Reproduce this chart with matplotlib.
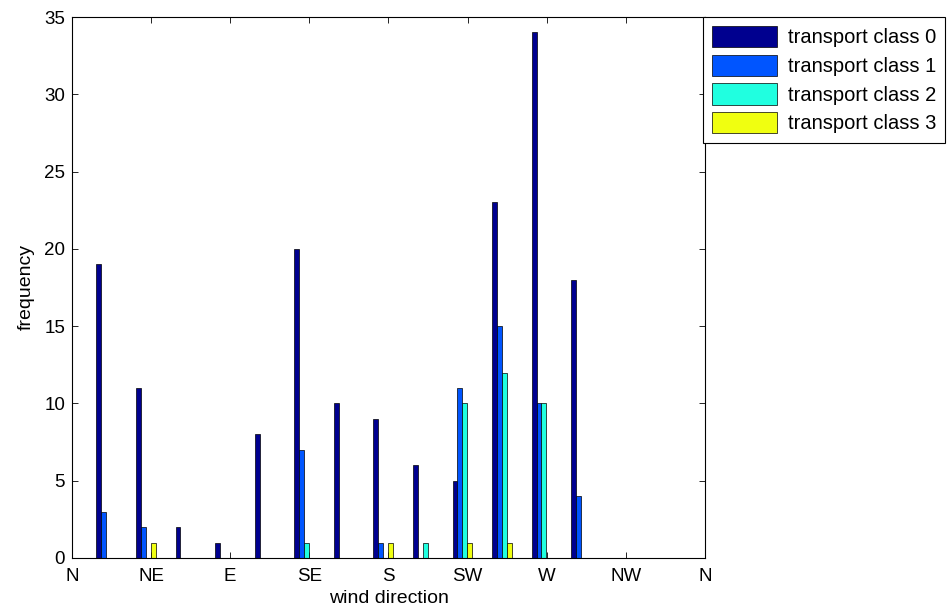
import numpy as np
import matplotlib
matplotlib.use('Agg')
import matplotlib.pyplot as plt

plt.rcParams['font.family'] = ['Liberation Sans', 'DejaVu Sans']

# wind direction bins (degrees, bin centres) and counts per transport class
bin_centres = [19.5, 42.0, 64.5, 87.0, 109.5, 132.0, 154.5, 177.0,
               199.5, 222.0, 244.5, 267.0, 289.5, 312.0, 334.5, 357.0]
class0 = [19, 11, 2, 1, 8, 20, 10, 9, 6, 5, 23, 34, 18, 0, 0, 0]
class1 = [3, 2, 0, 0, 0, 7, 0, 1, 0, 11, 15, 10, 4, 0, 0, 0]
class2 = [0, 0, 0, 0, 0, 1, 0, 0, 1, 10, 12, 10, 0, 0, 0, 0]
class3 = [0, 1, 0, 0, 0, 0, 0, 1, 0, 1, 1, 0, 0, 0, 0, 0]

series = [class0, class1, class2, class3]
labels = ['transport class 0', 'transport class 1', 'transport class 2', 'transport class 3']
colors = ['#00008F', '#0055FF', '#20FFE0', '#F0FF10']

tick_pos = [0, 45, 90, 135, 180, 225, 270, 315, 360]
tick_labels = ['N', 'NE', 'E', 'SE', 'S', 'SW', 'W', 'NW', 'N']

fig = plt.figure(figsize=(9.52, 6.15), dpi=100)
ax = fig.add_axes([72/952, 57/615, 633/952, 541/615])

w = 2.8
x = np.array(bin_centres)
handles = []
for i, (vals, col, lab) in enumerate(zip(series, colors, labels)):
    b = ax.bar(x + (i - 1.5) * w, vals, width=w, color=col, edgecolor='black',
               linewidth=0.5, label=lab)
    handles.append(b)

ax.set_xlim(0, 360)
ax.set_ylim(0, 35)
ax.set_xticks(tick_pos)
ax.set_xticklabels(tick_labels)
ax.set_yticks(range(0, 36, 5))
ax.tick_params(direction='in', top=True, right=True, length=4, width=0.6,
               labelsize=13.5, pad=5)
ax.tick_params(axis='x', pad=7)
ax.set_axisbelow(True)
for s in ax.spines.values():
    s.set_linewidth(0.8)
ax.set_xlabel('wind direction', fontsize=14, labelpad=4)
ax.set_ylabel('frequency', fontsize=14, labelpad=7)

leg = fig.legend(handles=handles, loc='upper left',
                 bbox_to_anchor=(703/952, 1 - 17/615), fontsize=14.5,
                 fancybox=False, framealpha=1, edgecolor='black',
                 handlelength=3.2, handleheight=1.25, labelspacing=0.36,
                 handletextpad=0.55, borderpad=0.45, borderaxespad=0)
leg.get_frame().set_linewidth(0.8)

fig.savefig('out.png', dpi=100)
